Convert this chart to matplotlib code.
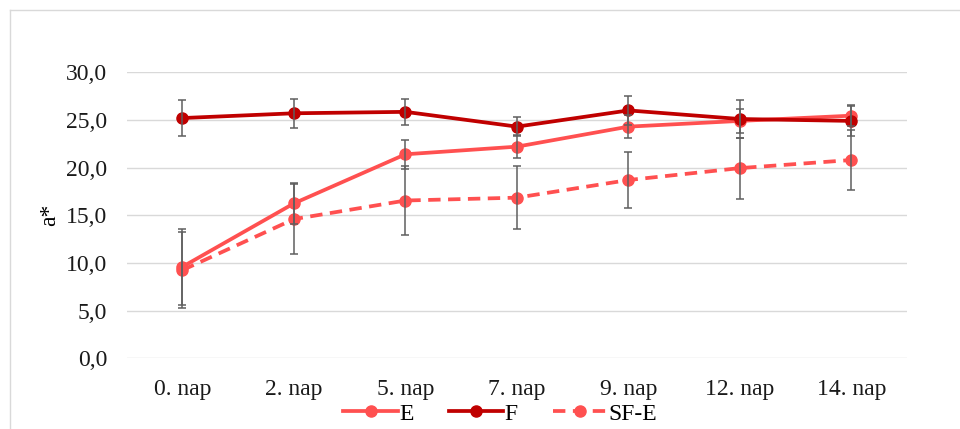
import matplotlib.pyplot as plt
from matplotlib.lines import Line2D
from matplotlib.ticker import FuncFormatter

days = ["0. nap", "2. nap", "5. nap", "7. nap", "9. nap", "12. nap", "14. nap"]

e_mean = [9.6, 16.25, 21.4, 22.2, 24.3, 24.9, 25.45]
e_err = [4.0, 2.15, 1.5, 1.2, 1.2, 1.3, 1.1]

f_mean = [25.2, 25.7, 25.85, 24.3, 26.0, 25.1, 24.9]
f_err = [1.9, 1.5, 1.4, 1.0, 1.5, 2.0, 1.6]

sfe_mean = [9.25, 14.6, 16.55, 16.85, 18.7, 19.95, 20.8]
sfe_err = [4.0, 3.65, 3.6, 3.3, 2.9, 3.2, 3.1]

col_e = "#ff5050"
col_f = "#c00000"
col_err = "#5f5f5f"

plt.rcParams["font.family"] = ["Liberation Serif", "DejaVu Serif"]
fs = 17

fig = plt.figure(figsize=(9.6, 4.29), dpi=100)
ax = fig.add_axes([0.132, 0.1648, 0.813, 0.6667])

x = list(range(len(days)))
series = [
    ("E", e_mean, e_err, col_e, "-"),
    ("F", f_mean, f_err, col_f, "-"),
    ("SF-E", sfe_mean, sfe_err, col_e, (0, (3.3, 2))),
]
handles = []
for name, m, err, c, ls in series:
    ax.plot(x, m, color=c, lw=2.7, ls=ls, marker="o", ms=8, zorder=3, clip_on=False)
    ax.errorbar(x, m, yerr=err, fmt="none", ecolor=col_err, elinewidth=1.1,
                capsize=3, capthick=1.1, zorder=4, clip_on=False)
    handles.append(Line2D([], [], color=c, lw=2.7, ls=ls, marker="o", ms=8, label=name))

ax.set_xlim(-0.5, len(days) - 0.5)
ax.set_ylim(0, 30)
ax.set_yticks(range(0, 31, 5))
ax.yaxis.set_major_formatter(FuncFormatter(lambda v, p: f"{v:.1f}".replace(".", ",")))
ax.set_xticks(x)
ax.set_xticklabels(days)
ax.grid(axis="y", color="#d9d9d9", lw=1)
ax.set_axisbelow(True)
for s in ax.spines.values():
    s.set_visible(False)
ax.tick_params(length=0, labelsize=fs, colors="#1a1a1a")
ax.tick_params(axis="x", pad=15)
ax.tick_params(axis="y", pad=14)
ax.set_ylabel("a*", fontsize=fs, labelpad=4)

fig.legend(handles=handles, loc="center", bbox_to_anchor=(0.521, 0.035), ncol=3,
           frameon=False, fontsize=fs, handlelength=2.3, handletextpad=0.05,
           columnspacing=1.5)

# chart area frame (left and top edges visible)
fig.add_artist(Line2D([0.0104, 0.0104], [0, 0.977], transform=fig.transFigure,
                      color="#d9d9d9", lw=1))
fig.add_artist(Line2D([0.0104, 1], [0.977, 0.977], transform=fig.transFigure,
                      color="#d9d9d9", lw=1))

fig.savefig("out.png", dpi=100)
